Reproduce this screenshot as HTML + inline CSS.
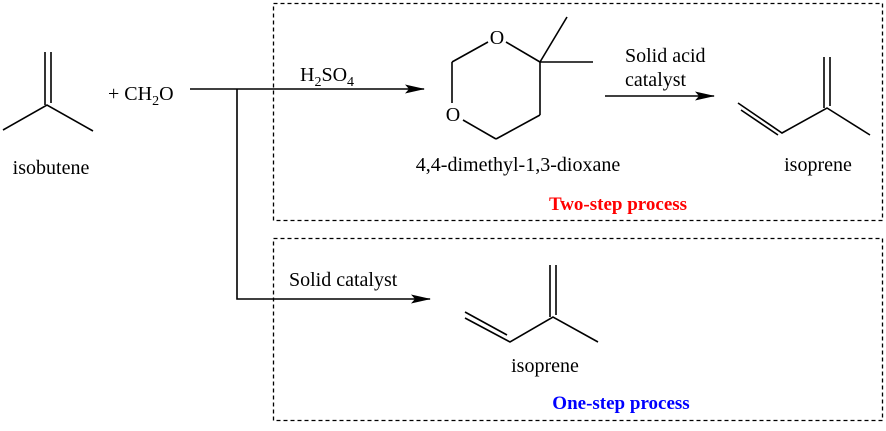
<!DOCTYPE html>
<html><head><style>
html,body{margin:0;padding:0;background:#fff;}
svg text{font-family:"Liberation Serif",serif;}
</style></head><body>
<svg width="886" height="426" viewBox="0 0 886 426" xmlns="http://www.w3.org/2000/svg">
<defs><marker id="ah" markerWidth="20" markerHeight="12" refX="19" refY="6" orient="auto" markerUnits="userSpaceOnUse"><path d="M0,1.5 L20,6 L0,10.5 L4,6 Z" fill="#000"/></marker></defs>
<g fill="none" stroke="#000" stroke-width="1.3" stroke-dasharray="4,3">
<rect x="273.5" y="3.5" width="609" height="217"/>
<rect x="273.5" y="238.5" width="609" height="182"/>
</g>
<g fill="none" stroke="#000" stroke-width="1.6">
<line x1="45" y1="52" x2="45" y2="105"/><line x1="51" y1="52" x2="51" y2="103"/>
<polyline points="3,130 47,105 93,131"/>
<line x1="190" y1="89" x2="424" y2="89" marker-end="url(#ah)"/>
<polyline points="237,89 237,299 430,299" marker-end="url(#ah)"/>
<line x1="605" y1="96" x2="714" y2="96" marker-end="url(#ah)"/>
<line x1="506" y1="42" x2="540" y2="62"/>
<line x1="540" y1="62" x2="567" y2="17"/>
<line x1="540" y1="62" x2="593" y2="62"/>
<line x1="540" y1="62" x2="540" y2="115"/>
<line x1="540" y1="115" x2="496" y2="139"/>
<line x1="496" y1="139" x2="463" y2="120"/>
<line x1="452" y1="103" x2="452" y2="62"/>
<line x1="452" y1="62" x2="488" y2="42"/>
<polyline points="738,103 782,133 827,108 870,135"/>
<line x1="741" y1="110" x2="778" y2="135"/>
<line x1="824" y1="57" x2="824" y2="108"/><line x1="830" y1="57" x2="830" y2="106"/>
<polyline points="465,318 510,342 553,317 598,342"/>
<line x1="465" y1="312" x2="507" y2="335"/>
<line x1="550" y1="265" x2="550" y2="317"/><line x1="556" y1="265" x2="556" y2="315"/>
</g>
<g font-size="20" fill="#000">
<text x="51" y="174" text-anchor="middle">isobutene</text>
<text x="108" y="100">+ CH<tspan font-size="14" dy="5">2</tspan><tspan dy="-5">O</tspan></text>
<text x="300" y="81">H<tspan font-size="14" dy="5">2</tspan><tspan dy="-5">SO</tspan><tspan font-size="14" dy="5">4</tspan></text>
<text x="497" y="44" text-anchor="middle">O</text>
<text x="453" y="121" text-anchor="middle">O</text>
<text x="518" y="171" text-anchor="middle">4,4-dimethyl-1,3-dioxane</text>
<text x="625" y="62">Solid acid</text>
<text x="625" y="86">catalyst</text>
<text x="818" y="171" text-anchor="middle">isoprene</text>
<text x="289" y="286">Solid catalyst</text>
<text x="545" y="372" text-anchor="middle">isoprene</text>
</g>
<text x="618" y="210" text-anchor="middle" font-size="19" font-weight="bold" fill="#f00">Two-step process</text>
<text x="621" y="409" text-anchor="middle" font-size="19" font-weight="bold" fill="#0000ff">One-step process</text>
</svg>
</body></html>
